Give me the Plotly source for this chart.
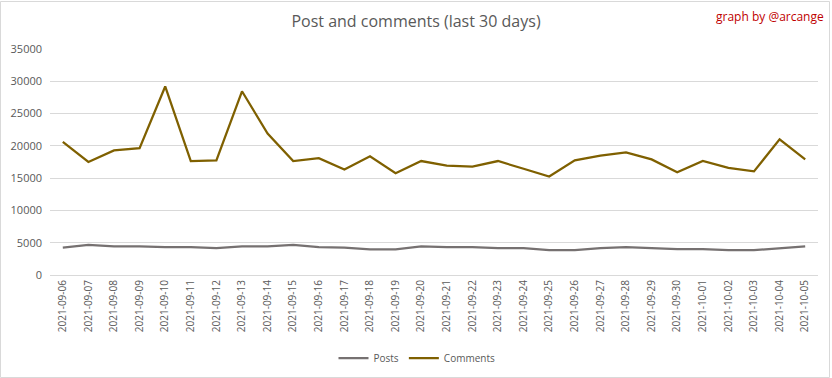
import plotly.graph_objects as go

dates = ["2021-09-06","2021-09-07","2021-09-08","2021-09-09","2021-09-10","2021-09-11",
         "2021-09-12","2021-09-13","2021-09-14","2021-09-15","2021-09-16","2021-09-17",
         "2021-09-18","2021-09-19","2021-09-20","2021-09-21","2021-09-22","2021-09-23",
         "2021-09-24","2021-09-25","2021-09-26","2021-09-27","2021-09-28","2021-09-29",
         "2021-09-30","2021-10-01","2021-10-02","2021-10-03","2021-10-04","2021-10-05"]

posts = [4250, 4650, 4450, 4450, 4300, 4300, 4150, 4450, 4450, 4650, 4300, 4250,
         3950, 3950, 4450, 4300, 4300, 4150, 4150, 3850, 3850, 4150, 4300, 4150,
         4000, 4000, 3850, 3850, 4150, 4450]

comments = [20600, 17500, 19300, 19650, 29200, 17650, 17750, 28450, 21900, 17650, 18100, 16350,
            18400, 15750, 17650, 16950, 16800, 17650, 16450, 15250, 17750, 18500, 19000, 17900,
            15900, 17650, 16600, 16050, 21000, 17900]

yticks = [0, 5000, 10000, 15000, 20000, 25000, 30000, 35000]

# the capture appears to squeeze a 384px tall viewport into 378px
W, H = 832, 384
K = H / 378.0

def Y(y):
    return y * K

L, R = 50, 14
T = Y(48)
B = H - Y(274)
pw, ph = W - L - R, H - T - B

def px(x):
    return (x - L) / pw

def py(y):
    return (H - B - Y(y)) / ph

font = "Open Sans"
fig = go.Figure()
fig.add_trace(go.Scatter(x=dates, y=posts, name="Posts", mode="lines",
                         line=dict(color="#767171", width=2.25)))
fig.add_trace(go.Scatter(x=dates, y=comments, name="Comments", mode="lines",
                         line=dict(color="#7f6000", width=2.25)))

fig.update_layout(
    width=W, height=H,
    margin=dict(l=L, r=R, t=T, b=B),
    paper_bgcolor="white", plot_bgcolor="white",
    font=dict(family=font, color="#595959", size=10),
    title=dict(text="Post and comments (last 30 days)", x=416 / W, xanchor="center",
               y=1 - Y(21) / H, yanchor="middle", font=dict(size=16, color="#595959", family=font)),
    showlegend=True,
    legend=dict(orientation="h", x=px(417), xanchor="center", y=py(357), yanchor="middle",
                font=dict(size=10, color="#595959"), bgcolor="rgba(0,0,0,0)"),
    xaxis=dict(type="category", categoryarray=dates, range=[-0.5, len(dates) - 0.5],
               tickangle=-90, showgrid=False, showline=True, linecolor="#d9d9d9", linewidth=1,
               ticks="", tickfont=dict(size=10, color="#595959"), fixedrange=True,
               automargin=False),
    yaxis=dict(range=[0, 35000], tickvals=yticks, ticktext=[str(v) for v in yticks],
               showgrid=True, gridcolor="#d9d9d9", gridwidth=1, zeroline=False,
               showline=False, ticks="", tickfont=dict(size=11, color="#595959"),
               ticklabelstandoff=7, fixedrange=True, automargin=False),
)

fig.add_annotation(text="graph by @arcange", xref="paper", yref="paper",
                   x=px(826), y=py(15), xanchor="right", yanchor="middle", showarrow=False,
                   font=dict(size=12, color="#c00000", family=font))

fig.add_shape(type="rect", xref="paper", yref="paper",
              x0=px(0.5), x1=px(829.5), y0=py(376.5), y1=py(0.5),
              line=dict(color="#d9d9d9", width=1), fillcolor="rgba(0,0,0,0)", layer="below")

post_js = (
    "var h=document.documentElement,b=document.body;"
    "h.style.margin='0';h.style.padding='0';h.style.overflow='hidden';"
    "b.style.margin='0';b.style.padding='0';b.style.overflow='hidden';"
)

fig.write_html("out.html", config={"displayModeBar": False, "staticPlot": True},
               post_script=post_js)
